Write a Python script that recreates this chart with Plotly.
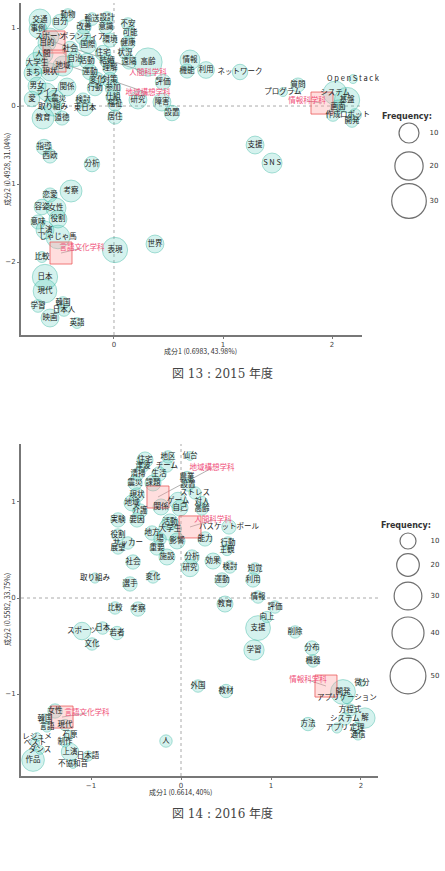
import plotly.graph_objects as go
import math

W, H = 445, 871

# ---------------- 2015 data ----------------
words15 = ["交通","動物","輸送","設計","不安","自分","改善","意識","事例","可能",
           "スポーツ","ボランティア","環境","健康","目的","国際","社会","住宅","状況","高齢",
           "人間","自治","活動","結婚","遠隔","大学生","地域","理解","まち","現状",
           "運動","変化","対策","男女","関係","行動","参加","ライフ","大震災","仕組",
           "愛","取り組み","検討","東日本","福祉","教育","道徳","居住","研究","障害",
           "評価","設置","情報","機能","利用","ネットワーク","質問","プログラム","O p e n S t a c k","構築",
           "システム","基盤","サイト","ウド","画面","作成","ロボット","開発","クラ","支援",
           "S N S","分析","指導","西欧","考察","恋愛","容姿","女性","役割","意味",
           "上演","じゃじゃ馬","比較","表現","世界","日本","現代","学習","韓国","日本人",
           "映画","英語"]
x15 = [-0.679,-0.422,-0.202,-0.064,0.128,-0.495,-0.275,-0.073,-0.697,0.147,
       -0.587,-0.284,-0.037,0.128,-0.615,-0.239,-0.404,-0.101,0.101,0.312,
       -0.651,-0.358,-0.248,-0.064,0.138,-0.706,-0.468,-0.037,-0.743,-0.587,
       -0.220,-0.156,-0.037,-0.706,-0.431,-0.174,-0.009,-0.615,-0.541,-0.009,
       -0.752,-0.560,-0.284,-0.266,0.009,-0.651,-0.477,0.009,0.220,0.440,
       0.450,0.532,0.697,0.670,0.844,1.156,1.688,1.550,2.193,2.394,
       2.028,2.138,2.303,2.303,2.055,2.009,2.211,2.183,2.321,1.294,
       1.450,-0.202,-0.642,-0.587,-0.394,-0.587,-0.661,-0.532,-0.514,-0.697,
       -0.633,-0.514,-0.661,0.009,0.376,-0.633,-0.633,-0.697,-0.468,-0.459,
       -0.587,-0.339]
y15 = [1.103,1.167,1.115,1.128,1.051,1.077,1.013,1.013,0.987,0.936,
       0.885,0.885,0.846,0.808,0.808,0.782,0.731,0.679,0.679,0.564,
       0.667,0.603,0.577,0.577,0.564,0.551,0.513,0.487,0.423,0.436,
       0.436,0.333,0.333,0.256,0.244,0.231,0.231,0.179,0.090,0.115,
       0.090,-0.013,0.077,-0.026,0.026,-0.154,-0.154,-0.141,0.077,0.051,
       0.308,-0.090,0.590,0.449,0.462,0.436,0.269,0.179,0.346,0.244,
       0.167,0.077,0.128,-0.013,-0.013,-0.115,-0.115,-0.192,-0.218,-0.500,
       -0.731,-0.744,-0.526,-0.641,-1.090,-1.141,-1.295,-1.308,-1.449,-1.487,
       -1.590,-1.679,-1.936,-1.846,-1.769,-2.192,-2.372,-2.564,-2.526,-2.615,
       -2.718,-2.782]
f15 = [12,4,4,4,4,6,5,5,8,4,
       8,6,5,5,8,7,6,6,4,20,
       10,6,6,5,5,12,10,5,8,8,
       6,6,6,8,8,6,6,8,8,5,
       6,8,5,6,5,12,5,5,8,8,
       6,6,10,5,7,6,5,2,2,6,
       14,16,18,12,5,4,4,4,2,8,
       10,6,6,5,12,5,6,10,8,5,
       8,14,3,16,8,16,14,4,4,4,
       8,3]

dept15 = ["人間科学科","地域構想学科","情報科学科","言語文化学科"]
dept15_x = [-0.550,-0.541,1.908,-0.486]
dept15_y = [0.821,0.577,0.038,-1.885]
dept15_lx = [0.312,0.312,1.771,-0.294]
dept15_ly = [0.423,0.167,0.064,-1.821]

# ---------------- 2016 data ----------------
words16 = ["住宅","地区","仙台","津波","チーム","清掃","生活","震災","課題","農業",
           "設置","ストレス","現状","ゲーム","地域","対人","自己","高齢","関係","介護",
           "バスケットボール","能力","実験","要因","活動","大学生","地方","役割","サッカー","場",
           "影響","展望","重要","行動","主観","社会","施設","分析","効果","研究",
           "検討","知覚","運動","利用","変化","取り組み","選手","比較","考察","スポーツ",
           "日本","若者","文化","教育","情報","評価","向上","支援","学習","削除",
           "分布","機器","外国","教材","方法","微分","開発","アプリケーション","方程式","システム",
           "解","アプリ","定理","通信","女性","韓国","言語","現代","レジュメ","石原",
           "ベスト","制作","ダンス","上演","日本語","作品","不協和音","人"]
x16 = [-0.400,-0.144,0.100,-0.422,-0.156,-0.478,-0.244,-0.511,-0.311,0.067,
       0.078,0.156,-0.489,-0.033,-0.544,0.233,-0.011,0.233,-0.222,-0.456,
       0.533,0.267,-0.700,-0.489,-0.122,-0.122,-0.322,-0.700,-0.589,-0.233,
       -0.044,-0.700,-0.267,0.522,0.511,-0.533,-0.156,0.122,0.356,0.100,
       0.544,0.822,0.456,0.800,-0.311,-0.956,-0.567,-0.733,-0.478,-1.100,
       -0.870,-0.711,-0.989,0.489,0.856,1.044,0.956,0.856,0.811,1.267,
       1.456,1.467,0.189,0.500,1.411,2.011,1.800,1.844,1.878,1.822,
       2.044,1.733,1.956,1.967,-1.400,-1.511,-1.489,-1.289,-1.600,-1.233,
       -1.622,-1.289,-1.567,-1.233,-1.033,-1.644,-1.200,-0.167]
y16 = [1.438,1.469,1.479,1.375,1.375,1.292,1.292,1.198,1.198,1.260,
       1.177,1.094,1.073,1.010,0.990,1.000,0.938,0.927,0.948,0.906,
       0.740,0.615,0.813,0.813,0.792,0.719,0.677,0.656,0.573,0.615,
       0.594,0.521,0.521,0.573,0.500,0.375,0.427,0.427,0.385,0.313,
       0.323,0.302,0.188,0.188,0.219,0.208,0.146,-0.104,-0.115,-0.344,
       -0.313,-0.365,-0.479,-0.063,0.010,-0.094,-0.198,-0.313,-0.542,-0.354,
       -0.521,-0.656,-0.917,-0.969,-1.313,-0.885,-0.979,-1.042,-1.167,-1.260,
       -1.250,-1.354,-1.354,-1.427,-1.177,-1.260,-1.344,-1.323,-1.448,-1.427,
       -1.510,-1.500,-1.583,-1.604,-1.646,-1.688,-1.729,-1.490]
f16 = [10,6,3,6,6,6,8,8,10,5,
       6,6,8,12,10,5,10,6,10,8,
       8,8,8,8,10,20,8,6,6,6,
       10,6,8,6,5,8,10,8,10,12,
       6,6,8,8,6,4,8,6,8,12,
       6,7,6,10,6,6,5,24,16,6,
       8,6,6,7,7,2,24,5,6,6,
       16,4,5,4,8,4,4,5,3,3,
       3,4,3,12,4,20,3,6]

dept16 = ["地域構想学科","人間科学科","情報科学科","言語文化学科"]
dept16_x = [-0.256,0.100,1.611,-1.322]
dept16_y = [1.052,0.740,-0.917,-1.240]
dept16_lx = [0.344,0.356,1.411,-1.044]
dept16_ly = [1.354,0.813,-0.854,-1.198]

legend15 = [10,20,30]
legend16 = [10,20,30,40,50]

titles15 = ["成分1 (0.6983, 43.98%)","成分2 (0.4928, 31.04%)","図 13 : 2015 年度"]
titles16 = ["成分1 (0.6614, 40%)","成分2 (0.5582, 33.75%)","図 14 : 2016 年度"]

# ---------------- styling ----------------
FONT = "Noto Sans CJK JP"
BUB_FILL = "rgba(70,200,180,0.32)"
BUB_LINE = "rgba(60,185,165,0.65)"
RED = "#f0507a"
K15 = 6.32   # px diameter per sqrt(freq)
K16 = 5.06

def px_x(p):
    return p / W

def px_y(p):
    return 1 - p / H

fig = go.Figure()

def add_panel(xa, ya, words, xs, ys, fs, k, dnames, dx, dy, dlx, dly):
    # dashed zero lines
    fig.add_shape(type="line", xref=xa, yref=ya + " domain", x0=0, x1=0, y0=0, y1=1,
                  line=dict(color="#aaaaaa", width=1, dash="3px,3px"), layer="below")
    fig.add_shape(type="line", xref=xa + " domain", yref=ya, x0=0, x1=1, y0=0, y1=0,
                  line=dict(color="#aaaaaa", width=1, dash="3px,3px"), layer="below")
    for a, b, c, d in zip(dx, dy, dlx, dly):
        fig.add_shape(type="line", x0=a, y0=b, x1=c, y1=d, xref=xa, yref=ya,
                      line=dict(color="rgba(90,90,90,0.6)", width=0.8), layer="below")
    fig.add_trace(go.Scatter(
        x=xs, y=ys, mode="markers", xaxis=xa, yaxis=ya, hoverinfo="skip",
        marker=dict(size=[k*math.sqrt(f) for f in fs], color=BUB_FILL,
                    line=dict(color=BUB_LINE, width=1)),
        cliponaxis=False, showlegend=False))
    fig.add_trace(go.Scatter(
        x=dx, y=dy, mode="markers", xaxis=xa, yaxis=ya, hoverinfo="skip",
        marker=dict(symbol="square", size=22, color="rgba(255,160,160,0.35)",
                    line=dict(color="rgba(235,90,90,0.8)", width=1)),
        cliponaxis=False, showlegend=False))
    fig.add_trace(go.Scatter(
        x=xs, y=ys, mode="text", text=words, xaxis=xa, yaxis=ya, hoverinfo="skip",
        textfont=dict(family=FONT, size=7.5, color="#222222"),
        cliponaxis=False, showlegend=False))
    fig.add_trace(go.Scatter(
        x=dlx, y=dly, mode="text", text=dnames, xaxis=xa, yaxis=ya, hoverinfo="skip",
        textfont=dict(family=FONT, size=7.5, color=RED),
        cliponaxis=False, showlegend=False))

add_panel("x", "y", words15, x15, y15, f15, K15, dept15, dept15_x, dept15_y, dept15_lx, dept15_ly)
add_panel("x2", "y2", words16, x16, y16, f16, K16, dept16, dept16_x, dept16_y, dept16_lx, dept16_ly)

# legends on a pixel overlay axis
leg15_y = [133, 166, 201]
leg16_y = [541, 565, 596, 633, 676]
fig.add_trace(go.Scatter(
    x=[409]*len(legend15) + [408]*len(legend16), y=leg15_y + leg16_y,
    mode="markers", xaxis="x3", yaxis="y3", hoverinfo="skip", showlegend=False,
    marker=dict(size=[K15*math.sqrt(v) for v in legend15] + [K16*math.sqrt(v) for v in legend16],
                color="rgba(0,0,0,0)", line=dict(color="#333333", width=1.2)),
    cliponaxis=False))
fig.add_trace(go.Scatter(
    x=[434]*len(legend15) + [435]*len(legend16), y=leg15_y + leg16_y,
    text=[str(v) for v in legend15] + [str(v) for v in legend16],
    mode="text", xaxis="x3", yaxis="y3", hoverinfo="skip", showlegend=False,
    textfont=dict(family="DejaVu Sans", size=7, color="#333333"), cliponaxis=False))

axis_common = dict(showgrid=False, zeroline=False, showline=True, linecolor="#777777",
                   linewidth=2, ticks="outside", ticklen=2, tickcolor="#777777",
                   tickfont=dict(family="DejaVu Sans", size=7, color="#444444"))

fig.update_layout(
    width=W, height=H, margin=dict(l=0, r=0, t=0, b=0),
    paper_bgcolor="white", plot_bgcolor="rgba(0,0,0,0)",
    xaxis=dict(domain=[px_x(21), px_x(362)], range=[-0.853, 2.275], tickvals=[0, 1, 2],
               anchor="y", **axis_common),
    yaxis=dict(domain=[px_y(335), px_y(3)], range=[-2.936, 1.321], tickvals=[-2, -1, 0, 1],
               anchor="x", **axis_common),
    xaxis2=dict(domain=[px_x(21), px_x(378)], range=[-1.778, 2.189], tickvals=[-1, 0, 1, 2],
                anchor="y2", **axis_common),
    yaxis2=dict(domain=[px_y(776), px_y(444)], range=[-1.854, 1.604], tickvals=[-1, 0, 1],
                anchor="x2", **axis_common),
    xaxis3=dict(domain=[0, 1], range=[0, W], visible=False, anchor="y3"),
    yaxis3=dict(domain=[0, 1], range=[H, 0], visible=False, anchor="x3"),
)

ann = []
def add_text(t, x, y, size, color="#333333", angle=0, family=FONT):
    ann.append(dict(text=t, x=px_x(x), y=px_y(y), xref="paper", yref="paper",
                    xanchor="center", yanchor="middle",
                    showarrow=False, textangle=angle,
                    font=dict(family=family, size=size, color=color)))

add_text("<b>Frequency:</b>", 407, 117, 8, family="DejaVu Sans")
add_text("<b>Frequency:</b>", 406, 525, 8, family="DejaVu Sans")
add_text(titles15[0], 200, 351, 7)
add_text(titles15[1], 7, 170, 7, angle=-90)
add_text(titles15[2], 222, 374, 12, color="#444444", family="DejaVu Serif, " + FONT)
add_text(titles16[0], 180, 792, 7)
add_text(titles16[1], 7, 610, 7, angle=-90)
add_text(titles16[2], 222, 814, 12, color="#444444", family="DejaVu Serif, " + FONT)
fig.update_layout(annotations=ann)

fig.write_html("out.html")
